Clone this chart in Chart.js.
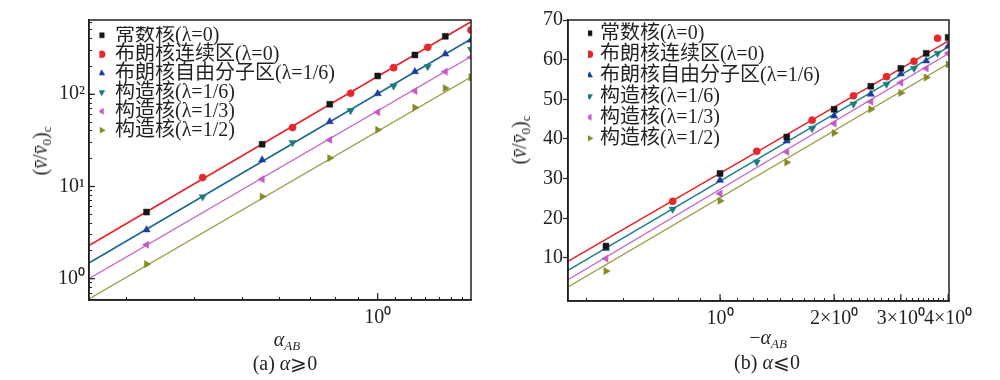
<!DOCTYPE html>
<html><head><meta charset="utf-8">
<script src="https://cdn.jsdelivr.net/npm/chart.js@4/dist/chart.umd.min.js"></script>
<style>
html,body{margin:0;padding:0;background:#fff;}
#wrap{position:relative;width:1000px;height:380px;overflow:hidden;font-family:'Liberation Serif','Noto Sans CJK SC',serif;color:#231f20;}
canvas{position:absolute;top:0;}
.lbl{position:absolute;transform:translate(-50%,-50%);white-space:nowrap;font-size:20px;line-height:1;}
.rot{transform:translate(-50%,-50%) rotate(-90deg);}
.ov{font-style:italic;}
sub{font-size:13px;vertical-align:-4px;line-height:0;}
</style></head>
<body><div id="wrap">
<canvas id="ca" width="495" height="380" style="left:0"></canvas>
<canvas id="cb" width="505" height="380" style="left:495px"></canvas>
<div class="lbl rot" style="left:40px;top:151px">(<span class="ov">v&#772;</span>/<span class="ov">v&#772;</span><sub>0</sub>)<sub>c</sub></div>
<div class="lbl rot" style="left:519px;top:140px">(<span class="ov">v&#772;</span>/<span class="ov">v&#772;</span><sub>0</sub>)<sub>c</sub></div>
<div class="lbl" style="left:287px;top:339px"><i>α</i><sub><i>AB</i></sub></div>
<div class="lbl" style="left:768px;top:337px">−<i>α</i><sub><i>AB</i></sub></div>
<div class="lbl" style="left:285px;top:363px">(a) <i>α</i>⩾0</div>
<div class="lbl" style="left:767px;top:362px">(b) <i>α</i>⩽0</div>
</div>
<script>
// ---------- shared ----------
const seriesNames = ['常数核(λ=0)', '布朗核连续区(λ=0)', '布朗核自由分子区(λ=1/6)', '构造核(λ=1/6)', '构造核(λ=1/3)', '构造核(λ=1/2)'];

// ---------- panel (a): alpha >= 0 (log-log) ----------
const aXEven = [0.25, 0.5, 0.75, 1.0, 1.25, 1.5, 1.75];
const aXOdd = [0.35, 0.6, 0.85, 1.1, 1.35, 1.75];
const aConst = [5.28, 28.7, 77.9, 157.8, 266.5, 424.7];
const aBrownCont = [12.5, 43.5, 102.5, 194, 322.7, 497];
const aBrownFree = [3.39, 19.4, 50.5, 101.5, 175.7, 273.1, 387];
const aStruct16 = [7.72, 29.9, 66.4, 123, 199, 307];
const aStruct13 = [2.33, 12.0, 32.0, 63.8, 108.6, 175.7, 251.6];
const aStruct12 = [1.44, 7.78, 20.3, 41.1, 71.6, 116.1, 152.8];
const aFitX = [0.177, 1.75];
const aFitRed = [2.29, 611];
const aFitBlue = [1.479, 397];
const aFitMagenta = [1.0, 256.6];
const aFitOlive = [0.603, 153.9];
const aXTickNinths = [2, 3, 4, 5, 6, 7, 8, 9, 10, 11, 12, 13, 14, 15];
const aXMajor = [1];
const aXMajorLabels = ['10⁰'];
const aYMajor = [1, 10, 100];
const aYMajorLabels = ['10⁰', '10¹', '10²'];
const aYMinorMult = [2, 3, 4, 5, 6, 7, 8, 9];

// ---------- panel (b): alpha <= 0 (semi-log) ----------
const bXEven = [0.5, 1, 1.5, 2, 2.5, 3, 3.5, 4];
const bXOdd = [0.75, 1.25, 1.75, 2.25, 2.75, 3.25, 3.75];
const bConst = [13.0, 31.3, 40.5, 47.5, 53.3, 57.8, 61.6, 65.6];
const bBrownCont = [24.3, 36.9, 44.75, 50.9, 55.7, 59.6, 65.4];
const bBrownFree = [12.4, 29.6, 39.5, 45.8, 51.3, 56.4, 59.7, 63.4];
const bStruct16 = [22.3, 34.2, 42.65, 48.8, 53.8, 57.8, 61.6];
const bStruct13 = [9.84, 26.2, 36.75, 43.9, 49.4, 54.2, 57.8, 61.6];
const bStruct12 = [6.7, 24.4, 34.1, 41.5, 47.5, 51.6, 55.5, 58.8];
const bFitX = [0.397, 4.02];
const bFitRed = [9.16, 64.8];
const bFitTeal = [6.89, 63.3];
const bFitMagenta = [4.54, 61.6];
const bFitOlive = [2.68, 59.06];
const bXTickNinths = [4,5,6,7,8,9,10,11,12,13,14,15,16,17,18,19,20,21,22,23,24,25,26,27,28,29,30,31,32,33,34,35,36];
const bXMajor = [1, 2, 3, 4];
const bXMajorLabels = ['10⁰', '2×10⁰', '3×10⁰', '4×10⁰'];
const bYTicks = [10, 20, 30, 40, 50, 60, 70];

// ---------- styling ----------
const INK = '#231f20';
const C = {black:'#161616', red:'#e5282b', blue:'#1f3c9c', teal:'#1c7c7c', magenta:'#c45cc6', olive:'#878a27'};
const markerStyle = [
  {c:C.black, s:'rect', r:4.2, rot:0},
  {c:C.red, s:'circle', r:3.6, rot:0},
  {c:C.blue, s:'triangle', r:4.2, rot:0},
  {c:C.teal, s:'triangle', r:4.2, rot:180},
  {c:C.magenta, s:'triangle', r:4.2, rot:270},
  {c:C.olive, s:'triangle', r:4.2, rot:90}
];
Chart.defaults.font.family = "'Liberation Serif','Noto Sans CJK SC',serif";
Chart.defaults.font.size = 20;
Chart.defaults.color = INK;

const pts = (xs, ys) => ys.map((y, i) => ({x: xs[i], y}));
const near = (a, b) => Math.abs(a - b) < 1e-9;

function markerSets(xsList, ysList) {
  return ysList.map((ys, i) => ({
    label: seriesNames[i], data: pts(xsList[i], ys), showLine: false, order: 0,
    pointStyle: markerStyle[i].s, pointRotation: markerStyle[i].rot, pointRadius: markerStyle[i].r,
    pointBackgroundColor: markerStyle[i].c, pointBorderColor: markerStyle[i].c, pointBorderWidth: 0.5,
    backgroundColor: markerStyle[i].c, borderColor: markerStyle[i].c
  }));
}
function fitSet(xs, ys, color, w) {
  return {label: 'fit', data: pts(xs, ys), showLine: true, order: 1, pointRadius: 0,
    borderColor: color, borderWidth: w, backgroundColor: color, fill: false};
}

const framePlugin = {id: 'frame', afterDraw(chart) {
  const a = chart.chartArea, ctx = chart.ctx;
  ctx.save(); ctx.strokeStyle = INK; ctx.lineWidth = 1.5;
  ctx.strokeRect(a.left, a.top, a.right - a.left, a.bottom - a.top); ctx.restore();
}};
const majorTickPlugin = {id: 'majorTicks', afterDraw(chart, args, opts) {
  const a = chart.chartArea, ctx = chart.ctx, lens = opts.lens || {};
  ctx.save(); ctx.strokeStyle = INK; ctx.lineWidth = 1.2;
  Object.keys(lens).forEach(id => {
    const s = chart.scales[id]; const len = lens[id];
    s.ticks.forEach(t => {
      if (!t.major) return;
      const p = s.getPixelForValue(t.value);
      ctx.beginPath();
      if (s.isHorizontal()) { ctx.moveTo(p, a.bottom); ctx.lineTo(p, a.bottom - len); }
      else { ctx.moveTo(a.left, p); ctx.lineTo(a.left + len, p); }
      ctx.stroke();
    });
  });
  ctx.restore();
}};
const legendPosPlugin = {id: 'legendPos', afterLayout(chart, args, opts) {
  const l = chart.legend, a = chart.chartArea;
  if (!l) return;
  l.left = a.left + opts.dx; l.top = a.top + opts.dy;
  l.right = l.left + 400; l.bottom = l.top + 400;
}};

function legendOpts(pad, boxW) {
  return {display: true, position: 'chartArea', align: 'start',
    labels: {usePointStyle: true, boxHeight: 5, boxWidth: boxW, padding: pad, color: INK,
      font: {size: 20, family: "'Liberation Serif','Noto Sans CJK SC',serif"},
      filter: item => item.datasetIndex < 6}};
}

// ---------- chart (a) ----------
new Chart(document.getElementById('ca'), {
  type: 'scatter',
  data: {datasets: [
    ...markerSets([aXEven, aXOdd, aXEven, aXOdd, aXEven, aXEven],
                  [aConst, aBrownCont, aBrownFree, aStruct16, aStruct13, aStruct12]),
    fitSet(aFitX, aFitOlive, '#999a3c', 1.2),
    fitSet(aFitX, aFitMagenta, '#c262c4', 1.2),
    fitSet(aFitX, aFitBlue, '#1e6890', 1.6),
    fitSet(aFitX, aFitRed, '#e8232a', 1.6)
  ]},
  options: {
    responsive: false, animation: false, events: [],
    layout: {padding: {left: 0, top: 20, right: 24, bottom: 0}},
    plugins: {tooltip: {enabled: false}, legend: legendOpts(-1, 6.6),
      legendPos: {dx: 10.4, dy: 6.3}, majorTicks: {lens: {x: 7, y: 6}}},
    scales: {
      x: {type: 'logarithmic', min: 0.177, max: 1.75,
        afterFit: s => { s.height = 80; },
        afterBuildTicks: s => { s.ticks = aXTickNinths.map(n => ({value: n / 9, major: aXMajor.some(m => near(m, n / 9))})); },
        ticks: {autoSkip: false, maxRotation: 0, minRotation: 0, padding: 9, color: INK,
          callback: v => { const i = aXMajor.findIndex(m => near(m, v)); return i >= 0 ? aXMajorLabels[i] : ''; }},
        grid: {drawOnChartArea: false, tickLength: -3, color: INK, tickWidth: 1},
        border: {color: INK, width: 1.5}},
      y: {type: 'logarithmic', min: 0.588, max: 638,
        afterFit: s => { s.width = 89; },
        afterBuildTicks: s => {
          const t = [];
          aYMajor.forEach(m => { t.push({value: m, major: true}); });
          [0.1, 1, 10, 100].forEach(d => aYMinorMult.forEach(k => { const v = d * k; if (v >= 0.588 && v <= 638) t.push({value: v, major: false}); }));
          t.sort((p, q) => p.value - q.value);
          s.ticks = t;
        },
        ticks: {autoSkip: false, padding: 7, color: INK,
          callback: v => { const i = aYMajor.findIndex(m => near(m, v)); return i >= 0 ? aYMajorLabels[i] : ''; }},
        grid: {drawOnChartArea: false, tickLength: -3, color: INK, tickWidth: 1},
        border: {color: INK, width: 1.5}}
    }
  },
  plugins: [framePlugin, majorTickPlugin, legendPosPlugin]
});

// ---------- chart (b) ----------
new Chart(document.getElementById('cb'), {
  type: 'scatter',
  data: {datasets: [
    ...markerSets([bXEven, bXOdd, bXEven, bXOdd, bXEven, bXEven],
                  [bConst, bBrownCont, bBrownFree, bStruct16, bStruct13, bStruct12]),
    fitSet(bFitX, bFitOlive, '#999a3c', 1.2),
    fitSet(bFitX, bFitMagenta, '#c262c4', 1.2),
    fitSet(bFitX, bFitTeal, '#1f7f86', 1.4),
    fitSet(bFitX, bFitRed, '#e8232a', 1.4)
  ]},
  options: {
    responsive: false, animation: false, events: [],
    layout: {padding: {left: 0, top: 20, right: 51, bottom: 0}},
    plugins: {tooltip: {enabled: false}, legend: legendOpts(1, 1),
      legendPos: {dx: 20, dy: 2.3}, majorTicks: {lens: {x: 7}}},
    scales: {
      x: {type: 'logarithmic', min: 0.397, max: 4.02,
        afterFit: s => { s.height = 79; },
        afterBuildTicks: s => { s.ticks = bXTickNinths.map(n => ({value: n / 9, major: bXMajor.some(m => near(m, n / 9))})); },
        ticks: {autoSkip: false, maxRotation: 0, minRotation: 0, padding: 9, color: INK,
          callback: v => { const i = bXMajor.findIndex(m => near(m, v)); return i >= 0 ? bXMajorLabels[i] : ''; }},
        grid: {drawOnChartArea: false, tickLength: -3, color: INK, tickWidth: 1},
        border: {color: INK, width: 1.5}},
      y: {type: 'linear', min: -0.85, max: 70,
        afterFit: s => { s.width = 73; },
        afterBuildTicks: s => { s.ticks = bYTicks.map(v => ({value: v})); },
        ticks: {autoSkip: false, padding: 0, color: INK, callback: v => String(v)},
        grid: {drawOnChartArea: false, tickLength: 5, color: INK, tickWidth: 1.2},
        border: {color: INK, width: 1.5}}
    }
  },
  plugins: [framePlugin, majorTickPlugin, legendPosPlugin]
});
</script>
</body></html>
